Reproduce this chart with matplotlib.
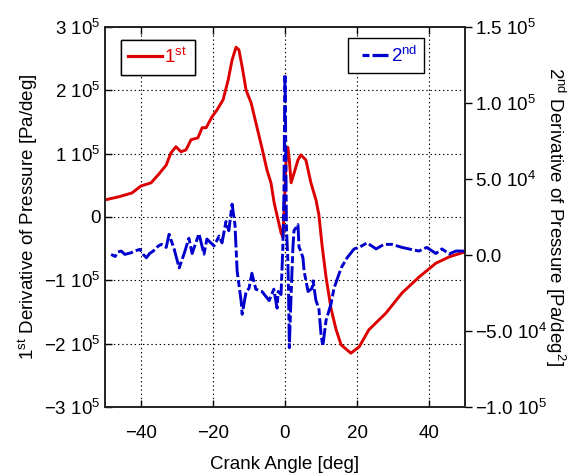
import matplotlib
matplotlib.use("Agg")
import matplotlib.pyplot as plt
from matplotlib.lines import Line2D
from matplotlib.legend_handler import HandlerLine2D

plt.rcParams['font.family'] = ['Liberation Sans', 'DejaVu Sans']
plt.rcParams['mathtext.fontset'] = 'custom'
plt.rcParams['mathtext.rm'] = 'Liberation Sans'
plt.rcParams['mathtext.it'] = 'Liberation Sans:italic'
plt.rcParams['mathtext.bf'] = 'Liberation Sans:bold'
plt.rcParams['lines.scale_dashes'] = False

# First derivative of pressure [Pa/deg] vs crank angle [deg]
crank_1st = [-50, -46.1, -42.5, -40, -37.2, -35, -33, -31.7, -30.3, -28.9, -27.5, -26.1,
             -24.2, -23, -21.9, -20.3, -18.9, -17.2, -15.8, -14.7, -13.6, -12.8, -11.9,
             -10.8, -9.4, -8.6, -7.8, -6.4, -5, -3.9, -3, -1.9, -1.1, -0.6, -0.2, 0.3,
             0.8, 1.2, 1.7, 2.5, 3.6, 4.4, 5.8, 7.2, 8.6, 9.4, 10.3, 11.4, 12.8, 14.2,
             15.6, 18.3, 20.6, 23.3, 28, 32.5, 37.2, 41.9, 45.6, 50]
dp_1st = [0.27e5, 0.32e5, 0.38e5, 0.49e5, 0.54e5, 0.68e5, 0.82e5, 1.01e5, 1.11e5, 1.03e5,
          1.06e5, 1.22e5, 1.25e5, 1.41e5, 1.41e5, 1.58e5, 1.69e5, 1.85e5, 2.16e5, 2.48e5,
          2.68e5, 2.64e5, 2.37e5, 2.00e5, 1.80e5, 1.61e5, 1.42e5, 1.09e5, 0.74e5, 0.54e5,
          0.22e5, -0.05e5, -0.25e5, -0.32e5, 0.16e5, 0.90e5, 1.10e5, 0.90e5, 0.54e5,
          0.69e5, 0.90e5, 0.98e5, 0.90e5, 0.54e5, 0.27e5, 0.04e5, -0.45e5, -0.95e5,
          -1.45e5, -1.78e5, -2.02e5, -2.15e5, -2.05e5, -1.78e5, -1.52e5, -1.20e5,
          -0.95e5, -0.73e5, -0.63e5, -0.55e5]

# Second derivative of pressure [Pa/deg^2] vs crank angle [deg]
crank_2nd = [-48.3, -47.2, -46.4, -45.5, -44.5, -42.7, -41.8, -40.3, -39.4, -38.5, -37.6,
             -36.6, -35.2, -34.3, -33, -32.2, -30.8, -29.4, -28, -26.7, -25.8, -23.9,
             -22.5, -21.7, -19.7, -18.3, -17.5, -16.4, -15.6, -14.7, -13.9, -13.3, -12.2,
             -11.9, -10.8, -10, -9.2, -8.1, -6.4, -4.4, -3.1, -2.2, -1.9, -1.1, -0.6,
             -0.3, -0.15, 0, 0.15, 0.25, 0.4, 0.8, 1.0, 1.2, 1.7, 2.2, 2.5, 3.6, 3.9,
             4.4, 5, 5.3, 6.4, 7.5, 7.8, 8.6, 9.4, 10, 10.5, 11.4, 12.8, 13.6, 15.6,
             17.2, 19.2, 20.6, 22.8, 25.3, 27.5, 29.7, 32.5, 34.4, 37.2, 39.4, 41.9,
             43.6, 45.6, 47.5, 50]
dp_2nd = [0.04e4, -0.1e4, 0.2e4, 0.26e4, 0.04e4, 0.15e4, 0.26e4, 0.37e4, 0.04e4,
          -0.18e4, 0.1e4, 0.26e4, 0.59e4, 0.7e4, 0.5e4, 1.36e4, 0.4e4, -0.85e4, 0.1e4,
          1.1e4, 0.1e4, 1.4e4, 0.05e4, 1.05e4, 0.6e4, 1.25e4, 0.8e4, 2.2e4, 1.6e4,
          3.35e4, 2.0e4, -1.05e4, -3.0e4, -3.9e4, -2.4e4, -2.2e4, -1.2e4, -2.25e4,
          -2.4e4, -3.0e4, -2.25e4, -3.5e4, -2.4e4, -2.6e4, 0.5e4, 4.0e4, 8.4e4, 11.9e4,
          8.8e4, 6.0e4, 1.8e4, -0.4e4, -2.6e4, -6.1e4, -2.6e4, 0.5e4, 1.6e4, 2.0e4,
          0.5e4, 0.26e4, -0.2e4, -1.05e4, -2.4e4, -2.2e4, -1.7e4, -3.0e4, -3.5e4,
          -5.2e4, -6.0e4, -4.3e4, -3.2e4, -2.2e4, -0.85e4, -0.2e4, 0.4e4, 0.5e4, 0.8e4,
          0.4e4, 0.7e4, 0.7e4, 0.5e4, 0.4e4, 0.26e4, 0.5e4, 0.1e4, 0.4e4, 0.07e4,
          0.26e4, 0.26e4]

x_ticks = [-40, -20, 0, 20, 40]
x_ticklabels = ['\u221240', '\u221220', '0', '20', '40']
y1_ticks = [-3e5, -2e5, -1e5, 0, 1e5, 2e5, 3e5]
y1_ticklabels = ['\u22123 10$^5$', '\u22122 10$^5$', '\u22121 10$^5$', '0',
                 '1 10$^5$', '2 10$^5$', '3 10$^5$']
y2_ticks = [-1e5, -5e4, 0, 5e4, 1e5, 1.5e5]
y2_ticklabels = ['\u22121.0 10$^5$', '\u22125.0 10$^4$', '0.0', '5.0 10$^4$',
                 '1.0 10$^5$', '1.5 10$^5$']

RED = '#dd0000'
BLUE = '#0000cc'
FS = 13.5
DASH = (5, 2.2, 12, 2.2)

fig = plt.figure(figsize=(5.73, 4.76), dpi=100)
ax = fig.add_axes([105 / 573, 1 - 407 / 476, 360 / 573, 380 / 476])
ax2 = ax.twinx()

ax.plot(crank_1st, dp_1st, color=RED, lw=2.1, solid_joinstyle='round')
ax2.plot(crank_2nd, dp_2nd, color=BLUE, lw=2.1, dashes=DASH)

ax.set_xlim(-50, 50)
ax.set_ylim(-3e5, 3e5)
ax2.set_ylim(-1e5, 1.5e5)

ax.set_xticks(x_ticks)
ax.set_xticklabels(x_ticklabels, fontsize=FS)
ax.set_yticks(y1_ticks)
ax.set_yticklabels(y1_ticklabels, fontsize=FS)
ax2.set_yticks(y2_ticks)
ax2.set_yticklabels(y2_ticklabels, fontsize=FS)

ax.grid(True, color='black', linestyle=(0, (1, 2)), linewidth=0.8)
ax.tick_params(axis='x', direction='in', length=5, width=1, top=True, pad=13)
ax.tick_params(axis='y', direction='in', length=5, width=1, pad=3)
ax2.tick_params(axis='y', direction='out', length=5, width=1, pad=2.5)

for a in (ax, ax2):
    for s in a.spines.values():
        s.set_linewidth(1.2)
        s.set_color('#222222')

ax.set_xlabel('Crank Angle [deg]', fontsize=FS, labelpad=10)
ax.set_ylabel('1$^{\\mathrm{st}}$ Derivative of Pressure [Pa/deg]', fontsize=FS,
              labelpad=3)
ax2.set_ylabel('2$^{\\mathrm{nd}}$ Derivative of Pressure [Pa/deg$^2$]', fontsize=FS,
               rotation=270, labelpad=14)

h1 = Line2D([], [], color=RED, lw=2.3)
leg1 = ax.legend([h1], ['1$^{\\mathrm{st}}$'], loc='upper left',
                 bbox_to_anchor=(0.044, 0.966), borderaxespad=0, fancybox=False,
                 edgecolor='black', framealpha=1, fontsize=FS, handlelength=1.8,
                 borderpad=0.4, labelcolor=RED, handletextpad=0.12)
leg1.get_frame().set_linewidth(1.0)
ax.add_artist(leg1)

h2 = Line2D([], [], color=BLUE, lw=2.3, dashes=DASH)
leg2 = ax2.legend([h2], ['2$^{\\mathrm{nd}}$'], loc='upper left',
                  bbox_to_anchor=(0.675, 0.971), borderaxespad=0, fancybox=False,
                  edgecolor='black', framealpha=1, fontsize=FS, handlelength=1.75,
                  borderpad=0.4, labelcolor=BLUE, handletextpad=0.12,
                  handler_map={h2: HandlerLine2D(xpad=0.35)})
leg2.get_frame().set_linewidth(1.0)

fig.savefig('out.png', dpi=100)
